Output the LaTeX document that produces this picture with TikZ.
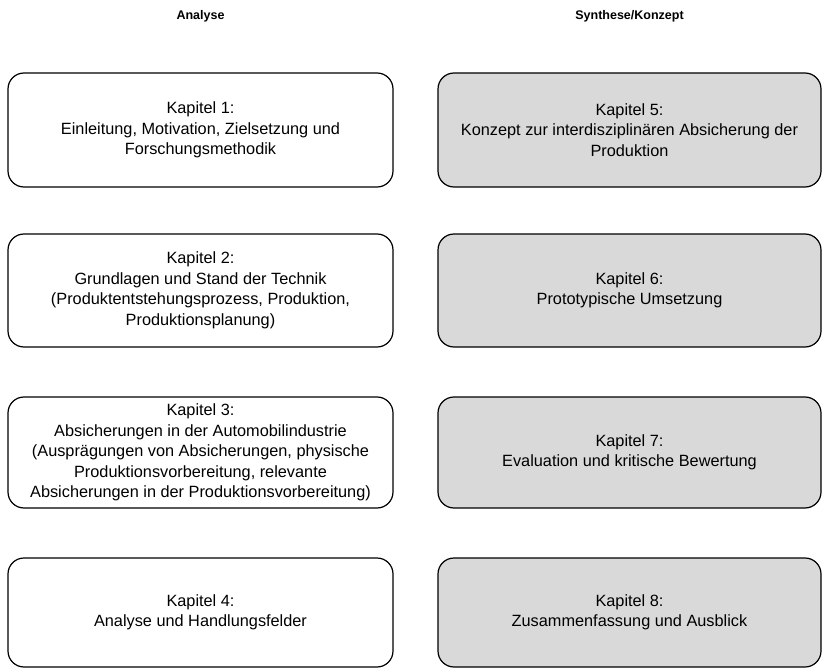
\documentclass[tikz,border=0pt]{standalone}
\usepackage{fontspec}
\setmainfont{Liberation Sans}
\definecolor{boxgray}{HTML}{D9D9D9}
\begin{document}
\begin{tikzpicture}[x=1pt,y=-1pt,
  box/.style={draw=black, line width=1.2pt, rounded corners=16pt, align=center,
    font=\fontsize{16.3}{20.5}\selectfont, inner sep=0pt},
  lbox/.style={box, fill=white, minimum width=385pt},
  rbox/.style={box, fill=boxgray, minimum width=383pt},
  head/.style={font=\bfseries\fontsize{12.5}{14}\selectfont}]
\useasboundingbox (0,0) rectangle (823,669);
\node[head] (hA) at (200.5,16) {Analyse};
\node[head] (hS) at (629.5,16) {Synthese/Konzept};
\node[lbox, minimum height=114pt] (k1) at (200.5,130) {Kapitel 1:\\Einleitung, Motivation, Zielsetzung und\\Forschungsmethodik};
\node[lbox, minimum height=113pt] (k2) at (200.5,290.5) {Kapitel 2:\\Grundlagen und Stand der Technik\\(Produktentstehungsprozess, Produktion,\\Produktionsplanung)};
\node[lbox, minimum height=111pt] (k3) at (200.5,452.5) {Kapitel 3:\\Absicherungen in der Automobilindustrie\\(Ausprägungen von Absicherungen, physische\\Produktionsvorbereitung, relevante\\Absicherungen in der Produktionsvorbereitung)};
\node[lbox, minimum height=109pt] (k4) at (200.5,612.5) {Kapitel 4:\\Analyse und Handlungsfelder};
\node[rbox, minimum height=114pt] (k5) at (629.5,130) {Kapitel 5:\\Konzept zur interdisziplinären Absicherung der\\Produktion};
\node[rbox, minimum height=113pt] (k6) at (629.5,290.5) {Kapitel 6:\\Prototypische Umsetzung};
\node[rbox, minimum height=111pt] (k7) at (629.5,452.5) {Kapitel 7:\\Evaluation und kritische Bewertung};
\node[rbox, minimum height=109pt] (k8) at (629.5,612.5) {Kapitel 8:\\Zusammenfassung und Ausblick};
\end{tikzpicture}
\end{document}
